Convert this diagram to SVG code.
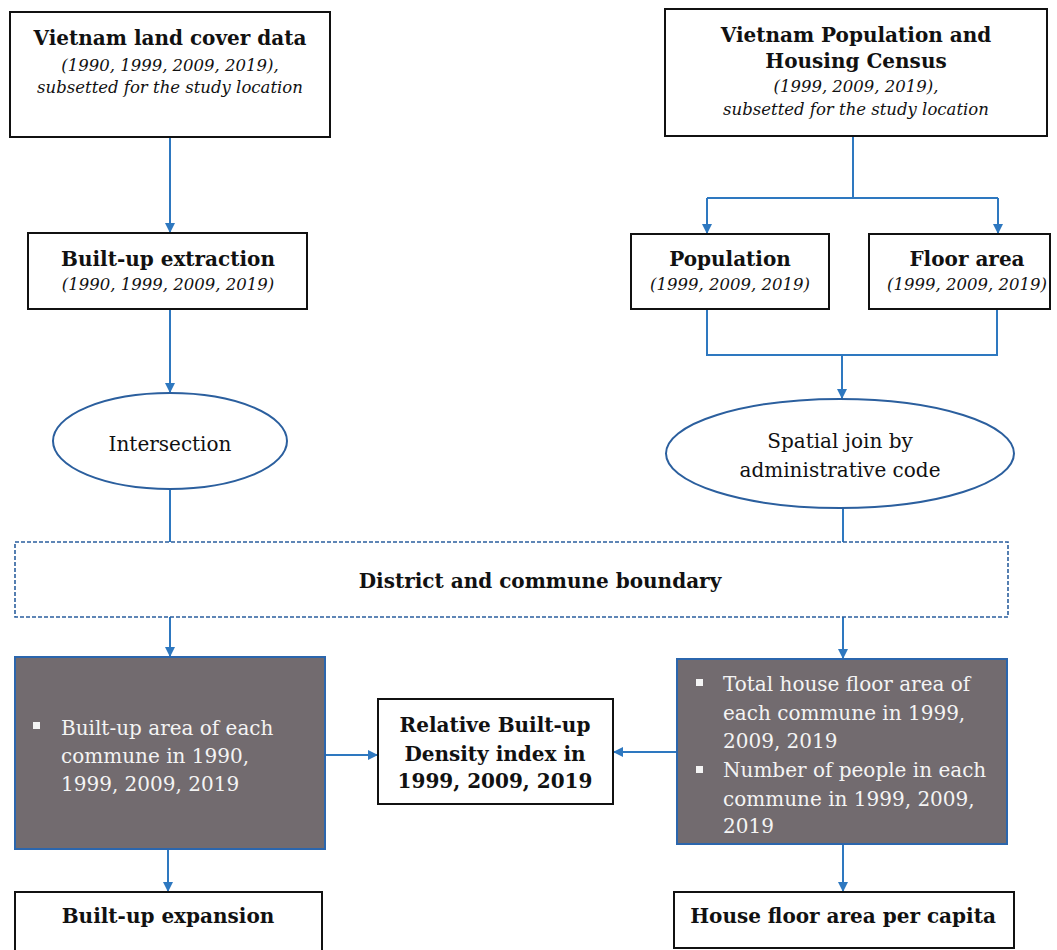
<svg xmlns="http://www.w3.org/2000/svg" width="1057" height="950" viewBox="0 0 1057 950">
<style>
text{font-family:"DejaVu Serif","Liberation Serif",serif;text-anchor:middle;fill:#111}
.b{font-weight:bold;font-size:20px}
.i{font-style:italic;font-size:16.5px}
.r{font-size:20px}
.w{font-size:20px;fill:#f4f4f4;text-anchor:start}
.box{fill:#fff;stroke:#111;stroke-width:2}
.ell{fill:#fff;stroke:#2b5f9e;stroke-width:2}
.gray{fill:#726b6f;stroke:#2b66ad;stroke-width:2}
.dash{fill:#fff;stroke:#2b5f9e;stroke-width:1.6;stroke-dasharray:4 2}
.c{fill:none;stroke:#2e78c0;stroke-width:2}
.bul{fill:#f4f4f4}
</style>
<defs>
<marker id="ah" viewBox="0 0 10 10" refX="10" refY="5" markerWidth="10" markerHeight="10" markerUnits="userSpaceOnUse" orient="auto">
<path d="M0,0 L10,5 L0,10 Z" fill="#2e78c0"/>
</marker>
</defs>
<g id="connectors">
<path class="c" d="M170,137 V233" marker-end="url(#ah)"/>
<path class="c" d="M170,310 V393" marker-end="url(#ah)"/>
<path class="c" d="M170,490 V542"/>
<path class="c" d="M853,136 V198"/>
<path class="c" d="M707,198 H998"/>
<path class="c" d="M707,198 V234" marker-end="url(#ah)"/>
<path class="c" d="M998,198 V234" marker-end="url(#ah)"/>
<path class="c" d="M707,309 V355 H997 V309"/>
<path class="c" d="M842,355 V399" marker-end="url(#ah)"/>
<path class="c" d="M843,508 V542"/>
<path class="c" d="M170,617 V657" marker-end="url(#ah)"/>
<path class="c" d="M843,617 V659" marker-end="url(#ah)"/>
<path class="c" d="M325,755 H378" marker-end="url(#ah)"/>
<path class="c" d="M677,752 H613" marker-end="url(#ah)"/>
<path class="c" d="M168,849 V892" marker-end="url(#ah)"/>
<path class="c" d="M843,844 V892" marker-end="url(#ah)"/>
</g>
<g id="landcover">
<rect class="box" x="10" y="12" width="320" height="125"/>
<text class="b" x="170" y="45">Vietnam land cover data</text>
<text class="i" x="170" y="71">(1990, 1999, 2009, 2019),</text>
<text class="i" x="170" y="93">subsetted for the study location</text>
</g>
<g id="census">
<rect class="box" x="665" y="9" width="382" height="127"/>
<text class="b" x="856" y="42">Vietnam Population and</text>
<text class="b" x="856" y="68">Housing Census</text>
<text class="i" x="856" y="92">(1999, 2009, 2019),</text>
<text class="i" x="856" y="115">subsetted for the study location</text>
</g>
<g id="builtup-extraction">
<rect class="box" x="28" y="233" width="279" height="76"/>
<text class="b" x="168" y="266">Built-up extraction</text>
<text class="i" x="168" y="290">(1990, 1999, 2009, 2019)</text>
</g>
<g id="population">
<rect class="box" x="631" y="234" width="198" height="75"/>
<text class="b" x="730" y="266">Population</text>
<text class="i" x="730" y="290">(1999, 2009, 2019)</text>
</g>
<g id="floorarea">
<rect class="box" x="869" y="234" width="181" height="75"/>
<text class="b" x="967" y="266">Floor area</text>
<text class="i" x="967" y="290">(1999, 2009, 2019)</text>
</g>
<g id="intersection">
<ellipse class="ell" cx="170" cy="441" rx="117" ry="48"/>
<text class="r" x="170" y="451">Intersection</text>
</g>
<g id="spatialjoin">
<ellipse class="ell" cx="840" cy="453.5" rx="174" ry="54.5"/>
<text class="r" x="840" y="448">Spatial join by</text>
<text class="r" x="840" y="477">administrative code</text>
</g>
<g id="boundary">
<rect class="dash" x="15" y="542" width="993" height="75"/>
<text class="b" x="540" y="588">District and commune boundary</text>
</g>
<g id="builtup-area">
<rect class="gray" x="15" y="657" width="310" height="192"/>
<rect class="bul" x="33" y="722" width="7" height="7"/>
<text class="w" x="61" y="735">Built-up area of each</text>
<text class="w" x="61" y="763">commune in 1990,</text>
<text class="w" x="61" y="791">1999, 2009, 2019</text>
</g>
<g id="floor-people">
<rect class="gray" x="677" y="659" width="330" height="185"/>
<rect class="bul" x="696" y="679" width="7" height="7"/>
<text class="w" x="723" y="691">Total house floor area of</text>
<text class="w" x="723" y="720">each commune in 1999,</text>
<text class="w" x="723" y="748">2009, 2019</text>
<rect class="bul" x="696" y="766" width="7" height="7"/>
<text class="w" x="723" y="777">Number of people in each</text>
<text class="w" x="723" y="806">commune in 1999, 2009,</text>
<text class="w" x="723" y="833">2019</text>
</g>
<g id="rbd-index">
<rect class="box" x="378" y="699" width="235" height="105"/>
<text class="b" x="495" y="732">Relative Built-up</text>
<text class="b" x="495" y="761">Density index in</text>
<text class="b" x="495" y="788">1999, 2009, 2019</text>
</g>
<g id="builtup-expansion">
<rect class="box" x="15" y="892" width="307" height="70"/>
<text class="b" x="168" y="923">Built-up expansion</text>
</g>
<g id="floor-per-capita">
<rect class="box" x="674" y="892" width="340" height="56"/>
<text class="b" x="843" y="923">House floor area per capita</text>
</g>
</svg>
